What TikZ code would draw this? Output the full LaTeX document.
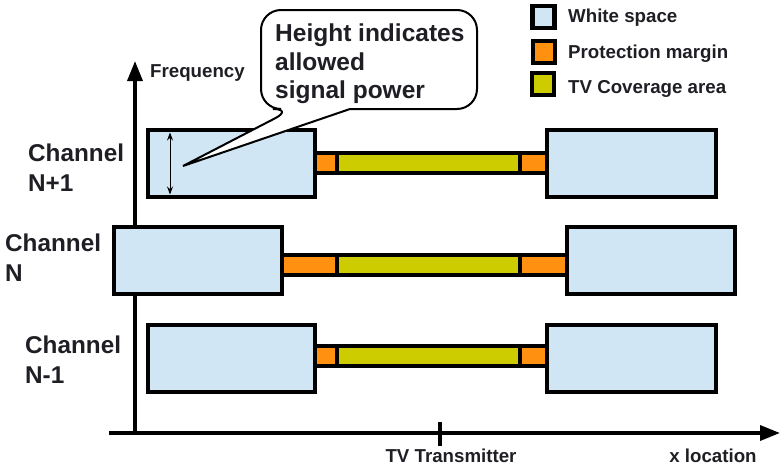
\documentclass[tikz,border=0pt]{standalone}
\usepackage{fontspec}
\setmainfont{Liberation Sans}
\usetikzlibrary{arrows.meta}
\definecolor{wsblue}{RGB}{208,230,244}
\definecolor{pmorange}{RGB}{255,144,16}
\definecolor{tvyellow}{RGB}{204,204,0}
\definecolor{txt}{RGB}{30,30,36}
\tikzset{
  wsbox/.style={draw=black, fill=wsblue, line width=4.5pt, inner sep=0pt, minimum width=168pt, minimum height=67pt},
  pmbar/.style={draw=black, fill=pmorange, line width=4pt, inner sep=0pt, minimum height=20pt},
  tvbar/.style={draw=black, fill=tvyellow, line width=4pt, inner sep=0pt, minimum height=20pt},
  legbox/.style={draw=black, line width=4.5pt, inner sep=0pt, minimum size=22pt},
  axisline/.style={line width=3.5pt, -{Triangle[length=20pt,width=15pt]}},
  lbl/.style={text=txt, font=\bfseries\fontsize{18.7}{22}\selectfont, inner sep=0pt},
  chlbl/.style={text=txt, font=\bfseries\fontsize{24.3}{30}\selectfont, inner sep=0pt, align=left, anchor=west},
}
\begin{document}
\begin{tikzpicture}[x=1pt,y=-1pt]
\useasboundingbox (0,0) rectangle (780,471);
% axes
\coordinate (yb) at (135,434);
\coordinate (yt) at (135,61);
\coordinate (xl) at (109,433);
\coordinate (xr) at (780,433);
\coordinate (tkt) at (440,422);
\coordinate (tkb) at (440,446);
\draw[axisline] (yb) -- (yt);
\draw[axisline] (xl) -- (xr);
\draw[line width=3.5pt] (tkt) -- (tkb);
% row N+1
\node[pmbar, minimum width=24pt] (p1a) at (327,163) {};
\node[pmbar, minimum width=29pt] (p1b) at (533,163) {};
\node[tvbar, minimum width=183pt] (t1) at (428.5,163) {};
\node[wsbox, minimum width=167pt] (w1a) at (231.5,163.5) {};
\node[wsbox, minimum width=169pt] (w1b) at (631.5,163.5) {};
% row N
\node[pmbar, minimum width=57pt] (p2a) at (309.5,265) {};
\node[pmbar, minimum width=49pt] (p2b) at (543.5,265) {};
\node[tvbar, minimum width=183pt] (t2) at (428.5,265) {};
\node[wsbox] (w2a) at (198,260.5) {};
\node[wsbox] (w2b) at (651,260.5) {};
% row N-1
\node[pmbar, minimum width=24pt] (p3a) at (327,355.5) {};
\node[pmbar, minimum width=29pt] (p3b) at (533,355.5) {};
\node[tvbar, minimum width=183pt] (t3) at (428.5,355.5) {};
\node[wsbox, minimum width=167pt] (w3a) at (231.5,358.5) {};
\node[wsbox, minimum width=169pt] (w3b) at (631.5,358.5) {};
% height arrow
\coordinate (ha) at (170,132.5);
\coordinate (hb) at (170,194.5);
\draw[line width=0.9pt, {Stealth[length=8pt,width=6pt]}-{Stealth[length=8pt,width=6pt]}] (ha) -- (hb);
% callout
\coordinate (ctip) at (183,166);
\draw[line width=2pt, fill=white, rounded corners=20pt] (400,109) -- (477,109) -- (477,10) -- (261,10) -- (261,109) -- (293,109) [sharp corners] -- (ctip) -- (350,109) -- cycle;
\node[text=txt, font=\bfseries\fontsize{24.5}{28.5}\selectfont, align=left, anchor=west, inner sep=0pt] (call) at (275,64) {Height indicates\\allowed\\signal power};
% axis labels
\node[lbl, anchor=west] (freq) at (150,73) {Frequency};
\node[lbl] (tvt) at (451,456) {TV Transmitter};
\node[lbl] (xloc) at (713,456) {x location};
% channel labels
\node[chlbl] (c1) at (28,168) {Channel\\N+1};
\node[chlbl] (c2) at (5,258) {Channel\\N};
\node[chlbl] (c3) at (25,360) {Channel\\N-1};
% legend
\node[legbox, fill=wsblue] (l1) at (543.5,17) {};
\node[legbox, fill=pmorange] (l2) at (544,52) {};
\node[legbox, fill=tvyellow] (l3) at (543,84) {};
\node[lbl, anchor=west] (lt1) at (568,18) {White space};
\node[lbl, anchor=west] (lt2) at (568,54) {Protection margin};
\node[lbl, anchor=west] (lt3) at (568,89) {TV Coverage area};
\end{tikzpicture}
\end{document}
